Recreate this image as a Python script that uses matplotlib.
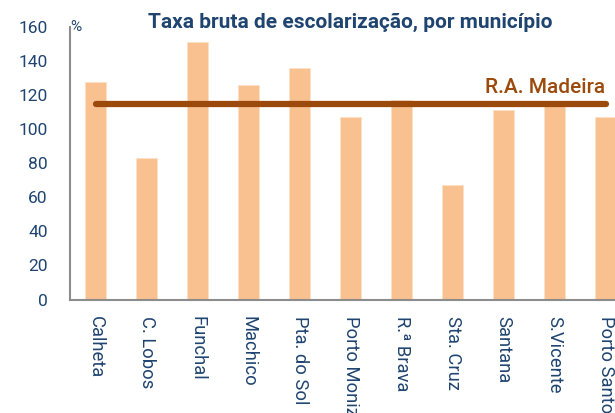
import matplotlib
matplotlib.use("Agg")
import matplotlib.pyplot as plt

municipios = ["Calheta", "C. Lobos", "Funchal", "Machico", "Pta. do Sol", "Porto Moniz",
              "R.ª Brava", "Sta. Cruz", "Santana", "S.Vicente", "Porto Santo"]
taxa = [128, 83, 151, 126, 136, 107, 117, 67, 111, 114, 107]
ra_madeira = 115
yticks = [0, 20, 40, 60, 80, 100, 120, 140, 160]

plt.rcParams['font.family'] = ['Roboto', 'DejaVu Sans']
blue = "#1F4470"
fig = plt.figure(figsize=(6.15, 4.13), dpi=100)
W, H = 615, 413
ax = fig.add_axes([70 / W, (H - 299.5) / H, 561 / W, 272.5 / H])
x = list(range(len(municipios)))
ax.bar(x, taxa, width=0.4, color="#F9C190", edgecolor="#FBE0C8", linewidth=0.6, zorder=2)
ax.plot([x[0], x[-1]], [ra_madeira, ra_madeira], color="#9C4A0B", linewidth=4.5,
        solid_capstyle="round", zorder=3)
ax.text(x[-1], ra_madeira + 4, "R.A. Madeira", ha="right", va="bottom", color="#9C4A0B",
        fontsize=15, fontweight="medium", zorder=4)
ax.set_xlim(-0.5, len(municipios) - 0.5)
ax.set_ylim(0, 160)
ax.set_yticks(yticks)
ax.set_xticks(x)
ax.set_xticklabels(municipios, rotation=-90, ha="center", va="top", color=blue, fontsize=13.2)
ax.tick_params(axis="y", length=0, labelcolor=blue, labelsize=12.5, pad=16)
ax.tick_params(axis="x", length=0, pad=12)
for s in ["top", "right"]:
    ax.spines[s].set_visible(False)
for s in ["left", "bottom"]:
    ax.spines[s].set_color("#8C8C8C")
    ax.spines[s].set_linewidth(1.5)
ax.text(0.0, 1.0, "%", transform=ax.transAxes, ha="left", va="center", color=blue, fontsize=11)
fig.text(350 / W, 1 - 22 / H, "Taxa bruta de escolarização, por município", ha="center",
         va="center", color=blue, fontsize=15, fontweight="bold")
fig.savefig("out.png", dpi=100)
